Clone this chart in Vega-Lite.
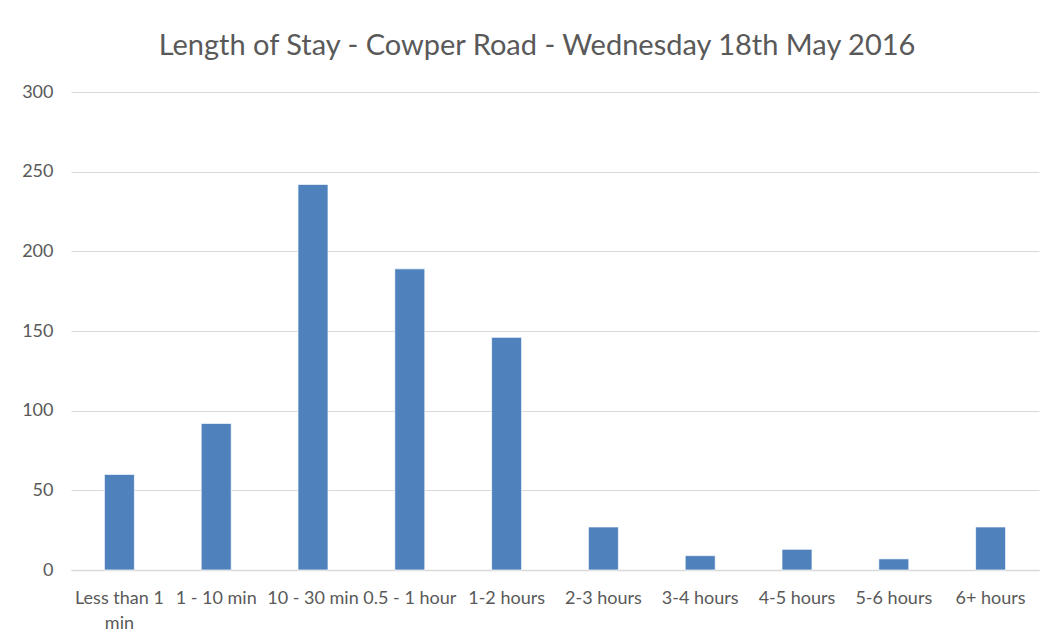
{
  "$schema": "https://vega.github.io/schema/vega-lite/v6.json",
  "autosize": "none",
  "width": 968,
  "height": 478,
  "padding": {"left": 71, "top": 92, "right": 21, "bottom": 74},
  "background": "white",
  "title": {
    "text": "Length of Stay - Cowper Road - Wednesday 18th May 2016",
    "font": "Lato",
    "fontSize": 29,
    "fontWeight": "normal",
    "color": "#595959",
    "anchor": "middle",
    "dx": -18,
    "offset": 22
  },
  "data": {
    "values": [
      {"stay": "Less than 1 min", "count": 60},
      {"stay": "1 - 10 min", "count": 92},
      {"stay": "10 - 30 min", "count": 242},
      {"stay": "0.5 - 1 hour", "count": 189},
      {"stay": "1-2 hours", "count": 146},
      {"stay": "2-3 hours", "count": 27},
      {"stay": "3-4 hours", "count": 9},
      {"stay": "4-5 hours", "count": 13},
      {"stay": "5-6 hours", "count": 7},
      {"stay": "6+ hours", "count": 27}
    ]
  },
  "mark": {"type": "bar", "color": "#4f81bd", "stroke": "white", "strokeWidth": 0.7},
  "encoding": {
    "x": {
      "field": "stay",
      "type": "nominal",
      "sort": null,
      "title": null,
      "scale": {"paddingInner": 0.69, "paddingOuter": 0.345},
      "axis": {
        "labelAngle": 0,
        "labelFont": "Lato",
        "labelFontSize": 18,
        "labelColor": "#595959",
        "labelPadding": 19,
        "labelLimit": 200,
        "labelLineHeight": 25,
        "labelExpr": "datum.label == 'Less than 1 min' ? ['Less than 1', 'min'] : datum.label",
        "ticks": false,
        "domainColor": "#d9d9d9",
        "domainWidth": 1.5
      }
    },
    "y": {
      "field": "count",
      "type": "quantitative",
      "title": null,
      "scale": {"domain": [0, 300], "nice": false},
      "axis": {
        "values": [0, 50, 100, 150, 200, 250, 300],
        "labelFont": "Lato",
        "labelFontSize": 18,
        "labelColor": "#595959",
        "labelPadding": 18,
        "ticks": false,
        "domain": false,
        "gridColor": "#d9d9d9",
        "gridWidth": 1
      }
    }
  },
  "config": {"view": {"stroke": null}}
}
